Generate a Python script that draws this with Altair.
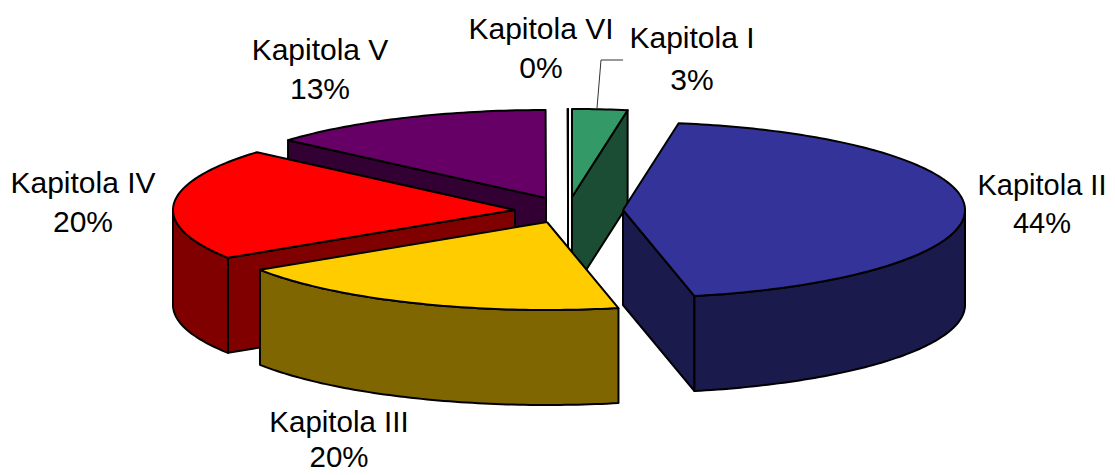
import math
import altair as alt
import pandas as pd

# --- chart values ---
names = ["Kapitola I", "Kapitola II", "Kapitola III", "Kapitola IV", "Kapitola V", "Kapitola VI"]
shares = [2.6, 44.05, 19.2, 20.55, 13.58, 0.02]
pct_labels = ["3%", "44%", "20%", "20%", "13%", "0%"]
top_colors = ["#339966", "#333399", "#FFCC00", "#FF0000", "#660066", "#FFFFFF"]
side_colors = ["#1A4D33", "#1A1A4D", "#806600", "#800000", "#330033", "#FFFFFF"]
# exploded centre of each slice, in chart pixels
centre_x = [572, 623, 547, 515, 546, 568]
centre_y = [197, 210, 222, 210, 198, 197]
visible_cut = ["end", "end", None, "start", "start", "end"]
label_x = [692, 1042, 339, 83, 320, 541]
label_y1 = [39, 186, 423, 184, 51, 30]
label_y2 = [81, 224, 458, 223, 90, 69]
label_sizes = [30, 29, 29.5, 30, 30, 30]
draw_order = [4, 5, 0, 3, 2, 1]
leader_x = [597, 601, 623]
leader_y = [108, 60, 60]

RX, RY, DEPTH = 342, 88, 95
W, H = 1099, 466
xs = alt.Scale(domain=[8, 8 + W], nice=False, zero=False)
ys = alt.Scale(domain=[8 + H, 8], nice=False, zero=False)


def rim(i, a, b):
    n = max(2, int(abs(b - a)) + 2)
    out = []
    for k in range(n):
        t = math.radians(a + (b - a) * k / (n - 1))
        out.append((centre_x[i] + RX * math.sin(t), centre_y[i] - RY * math.cos(t)))
    return out


def face(points, fill):
    pts = list(points) + [points[0]]
    df = pd.DataFrame({"x": [p[0] for p in pts], "y": [p[1] for p in pts], "i": range(len(pts))})
    return alt.Chart(df).mark_line(fill=fill, stroke="black", strokeWidth=2, strokeJoin="round", clip=True).encode(
        x=alt.X("x:Q", scale=xs, axis=None),
        y=alt.Y("y:Q", scale=ys, axis=None),
        order=alt.Order("i:Q"),
    )


starts, acc = [], 0.0
for s in shares:
    starts.append(acc)
    acc += s

layers = []
for i in draw_order:
    a = starts[i] * 3.6
    b = (starts[i] + shares[i]) * 3.6
    apex = (centre_x[i], centre_y[i])
    if visible_cut[i]:
        p = rim(i, a, a)[0] if visible_cut[i] == "start" else rim(i, b, b)[0]
        layers.append(face([apex, p, (p[0], p[1] + DEPTH), (apex[0], apex[1] + DEPTH)], side_colors[i]))
    lo, hi = max(a, 90), min(b, 270)
    if hi > lo:
        edge = rim(i, lo, hi)
        layers.append(face(edge + [(x, y + DEPTH) for x, y in reversed(edge)], side_colors[i]))
    layers.append(face([apex] + rim(i, a, b), top_colors[i]))

leader = alt.Chart(pd.DataFrame({"x": leader_x, "y": leader_y, "i": range(3)})).mark_line(
    color="#333333", strokeWidth=1
).encode(x=alt.X("x:Q", scale=xs, axis=None), y=alt.Y("y:Q", scale=ys, axis=None), order="i:Q")

labels = pd.DataFrame({
    "x": label_x + label_x,
    "y": label_y1 + label_y2,
    "t": names + pct_labels,
    "s": label_sizes + label_sizes,
})
text = alt.Chart(labels).mark_text(font="Liberation Sans", color="black", align="center", baseline="middle").encode(
    x=alt.X("x:Q", scale=xs, axis=None), y=alt.Y("y:Q", scale=ys, axis=None), text="t:N",
    size=alt.Size("s:Q", scale=None),
)

chart = alt.layer(*layers, leader, text).properties(
    width=W, height=H, padding=0, autosize=alt.AutoSizeParams(type="none"),
    background="white",
).configure_view(stroke=None)

chart.save("out.html", embed_options={"renderer": "svg", "actions": False})
